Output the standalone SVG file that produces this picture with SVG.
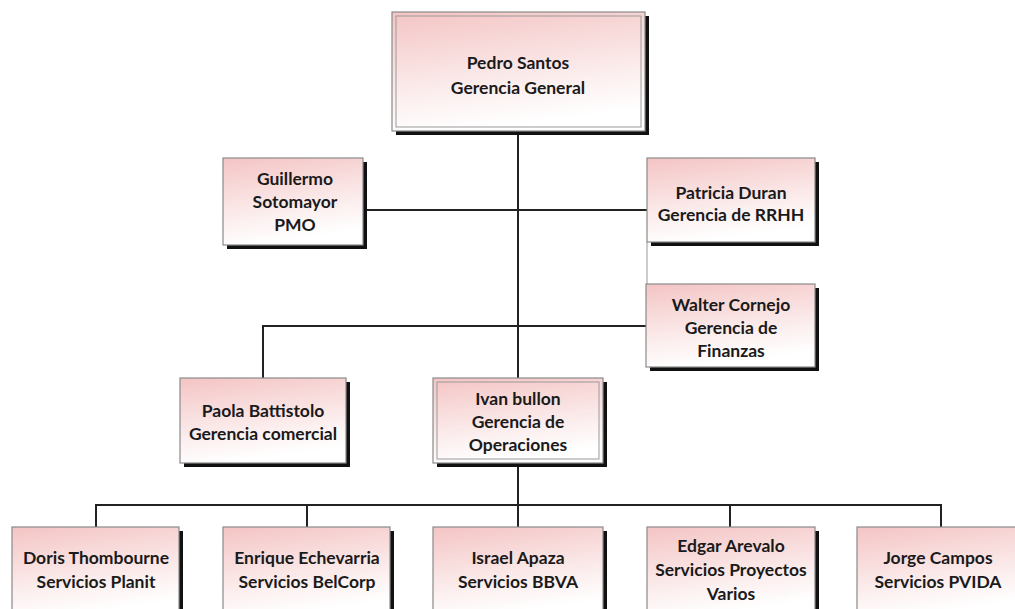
<svg xmlns="http://www.w3.org/2000/svg" width="1015" height="609" viewBox="0 0 1015 609">
  <style>
    .box { fill: url(#pink); stroke: #8a8a8a; stroke-width: 1.2; }
    .inner { fill: none; stroke: #9a9a9a; stroke-width: 1; }
    .shadow { fill: #111; }
    .label { font-family: "Lato", "Liberation Sans", sans-serif; font-weight: bold; font-size: 17.5px; fill: #1a1a1a; text-anchor: middle; dominant-baseline: central; }
    .wire { fill: none; stroke: #222; stroke-width: 2; }
    .thin { fill: none; stroke: #9a9a9a; stroke-width: 1; }
  </style>
  <defs>
    <linearGradient id="pink" x1="0" y1="0" x2="0.25" y2="1">
      <stop offset="0" stop-color="#f4c4c4"/>
      <stop offset="0.7" stop-color="#fcefef"/>
      <stop offset="1" stop-color="#ffffff"/>
    </linearGradient>
  </defs>
  <rect width="1015" height="609" fill="#ffffff"/>

  <g id="connectors">
    <path class="wire" d="M518 131 V378"/>
    <path class="wire" d="M363 210 H647"/>
    <path class="wire" d="M263 378 V326 H646"/>
    <path class="thin" d="M647 242 V284"/>
    <path class="wire" d="M518 463 V527"/>
    <path class="wire" d="M96 527 V505 H941 V527"/>
    <path class="wire" d="M307 505 V527"/>
    <path class="wire" d="M730 505 V527"/>
  </g>

  <g id="pedro">
    <rect class="shadow" x="396" y="16" width="253" height="119"/>
    <rect class="box" x="392" y="12" width="253" height="119"/>
    <rect class="inner" x="396" y="16" width="245" height="111"/>
    <text class="label" x="518" y="62">Pedro Santos</text>
    <text class="label" x="518" y="87">Gerencia General</text>
  </g>

  <g id="guillermo">
    <rect class="shadow" x="227" y="162" width="140" height="87"/>
    <rect class="box" x="223" y="158" width="140" height="87"/>
    <text class="label" x="295" y="178">Guillermo</text>
    <text class="label" x="295" y="201">Sotomayor</text>
    <text class="label" x="295" y="224">PMO</text>
  </g>

  <g id="patricia">
    <rect class="shadow" x="651" y="162" width="168" height="84"/>
    <rect class="box" x="647" y="158" width="168" height="84"/>
    <text class="label" x="731" y="192">Patricia Duran</text>
    <text class="label" x="731" y="214">Gerencia de RRHH</text>
  </g>

  <g id="walter">
    <rect class="shadow" x="650" y="288" width="169" height="83"/>
    <rect class="box" x="646" y="284" width="169" height="83"/>
    <text class="label" x="731" y="304">Walter Cornejo</text>
    <text class="label" x="731" y="327">Gerencia de</text>
    <text class="label" x="731" y="350">Finanzas</text>
  </g>

  <g id="paola">
    <rect class="shadow" x="184" y="382" width="166" height="85"/>
    <rect class="box" x="180" y="378" width="166" height="85"/>
    <text class="label" x="263" y="410">Paola Battistolo</text>
    <text class="label" x="263" y="433">Gerencia comercial</text>
  </g>

  <g id="ivan">
    <rect class="shadow" x="437" y="382" width="170" height="85"/>
    <rect class="box" x="433" y="378" width="170" height="85"/>
    <rect class="inner" x="437" y="382" width="162" height="77"/>
    <text class="label" x="518" y="398">Ivan bullon</text>
    <text class="label" x="518" y="421">Gerencia de</text>
    <text class="label" x="518" y="444">Operaciones</text>
  </g>

  <g id="doris">
    <rect class="shadow" x="16" y="531" width="167" height="90"/>
    <rect class="box" x="12" y="527" width="167" height="90"/>
    <text class="label" x="96" y="557">Doris Thombourne</text>
    <text class="label" x="96" y="581">Servicios Planit</text>
  </g>

  <g id="enrique">
    <rect class="shadow" x="227" y="531" width="167" height="90"/>
    <rect class="box" x="223" y="527" width="167" height="90"/>
    <text class="label" x="307" y="557">Enrique Echevarria</text>
    <text class="label" x="307" y="581">Servicios BelCorp</text>
  </g>

  <g id="israel">
    <rect class="shadow" x="437" y="531" width="170" height="90"/>
    <rect class="box" x="433" y="527" width="170" height="90"/>
    <text class="label" x="518" y="557">Israel Apaza</text>
    <text class="label" x="518" y="581">Servicios BBVA</text>
  </g>

  <g id="edgar">
    <rect class="shadow" x="651" y="531" width="168" height="90"/>
    <rect class="box" x="647" y="527" width="168" height="90"/>
    <text class="label" x="731" y="545">Edgar Arevalo</text>
    <text class="label" x="731" y="569">Servicios Proyectos</text>
    <text class="label" x="731" y="593">Varios</text>
  </g>

  <g id="jorge">
    <rect class="shadow" x="861" y="531" width="163" height="90"/>
    <rect class="box" x="857" y="527" width="163" height="90"/>
    <text class="label" x="938" y="557">Jorge Campos</text>
    <text class="label" x="938" y="581">Servicios PVIDA</text>
  </g>
</svg>
